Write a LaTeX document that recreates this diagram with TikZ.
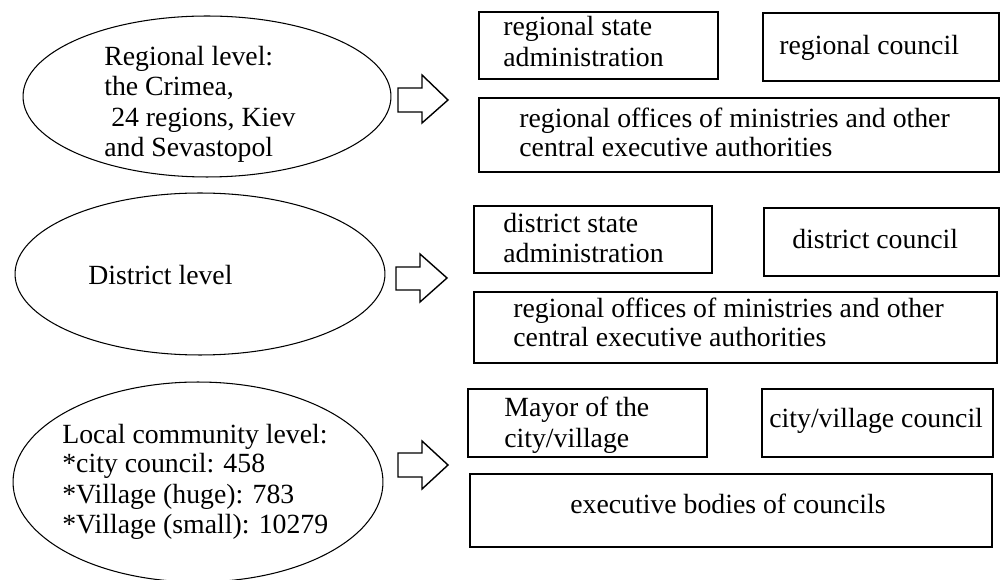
\documentclass[tikz,border=0pt]{standalone}
\usepackage{fontspec}
\setmainfont{Liberation Serif}
\usetikzlibrary{shapes.geometric,fit}
\begin{document}
\begin{tikzpicture}[x=0.02cm,y=-0.02cm,
  lvl/.style={draw, ellipse, line width=0.6pt, inner sep=0pt, outer sep=0pt},
  box/.style={draw, rectangle, line width=0.9pt, inner sep=0pt, outer sep=0pt},
  txt/.style={anchor=base west, inner sep=0pt, font=\fontsize{15.8}{17}\selectfont},
  blockarrow/.style={draw, line width=0.8pt, line join=miter}
]
\useasboundingbox (0,0) rectangle (1000,580);

% level ellipses
\node[lvl, minimum width=7.36cm, minimum height=3.22cm] (e1) at (207,96.5) {};
\node[lvl, minimum width=7.40cm, minimum height=3.24cm] (e2) at (200,274) {};
\node[lvl, minimum width=7.40cm, minimum height=4.00cm] (e3) at (198,482) {};

\node[txt] (e1a) at (104,66) {Regional level:};
\node[txt] (e1b) at (104,96) {the Crimea,};
\node[txt] (e1c) at (104,127) {\ 24 regions, Kiev};
\node[txt] (e1d) at (104,157) {and Sevastopol};

\node[txt] (e2a) at (88,285) {District level};

\node[txt] (e3a) at (62,443) {Local community level:};
\node[txt] (e3b) at (62,472) {*city council: 458};
\node[txt] (e3c) at (62,503) {*Village (huge): 783};
\node[txt] (e3d) at (62,533) {*Village (small): 10279};

% block arrows
\draw[blockarrow] (398,88) -- (422,88) -- (422,75) -- (448,100) -- (422,123) -- (422,112) -- (398,112) -- cycle;
\draw[blockarrow] (396,267) -- (420,267) -- (420,254) -- (447,278) -- (420,302) -- (420,290) -- (396,290) -- cycle;
\draw[blockarrow] (398,453) -- (422,453) -- (422,441) -- (448,465) -- (422,489) -- (422,477) -- (398,477) -- cycle;

% regional boxes
\node[box, fit={(479,12) (718,79)}] (rsa) {};
\node[box, fit={(763,13) (999,81)}] (rc) {};
\node[box, fit={(479,98) (999,172)}] (rom) {};
\node[txt] (rsa1) at (503,36) {regional state};
\node[txt] (rsa2) at (503,67) {administration};
\node[txt] (rct) at (779,55) {regional council};
\node[txt] (rom1) at (519,128) {regional offices of ministries and other};
\node[txt] (rom2) at (519,157) {central executive authorities};

% district boxes
\node[box, fit={(474,206) (712,273)}] (dsa) {};
\node[box, fit={(764,208) (999,276)}] (dc) {};
\node[box, fit={(474,292) (997,363)}] (dom) {};
\node[txt] (dsa1) at (503,233) {district state};
\node[txt] (dsa2) at (503,263) {administration};
\node[txt] (dct) at (792,249) {district council};
\node[txt] (dom1) at (513,318) {regional offices of ministries and other};
\node[txt] (dom2) at (513,347) {central executive authorities};

% local boxes
\node[box, fit={(468,389) (707,457)}] (may) {};
\node[box, fit={(762,389) (993,457)}] (cvc) {};
\node[box, fit={(470,474) (992,547)}] (ebc) {};
\node[txt] (may1) at (504,417) {Mayor of the};
\node[txt] (may2) at (504,447) {city/village};
\node[txt] (cvct) at (769,428) {city/village council};
\node[txt] (ebct) at (570,513) {executive bodies of councils};
\end{tikzpicture}
\end{document}
